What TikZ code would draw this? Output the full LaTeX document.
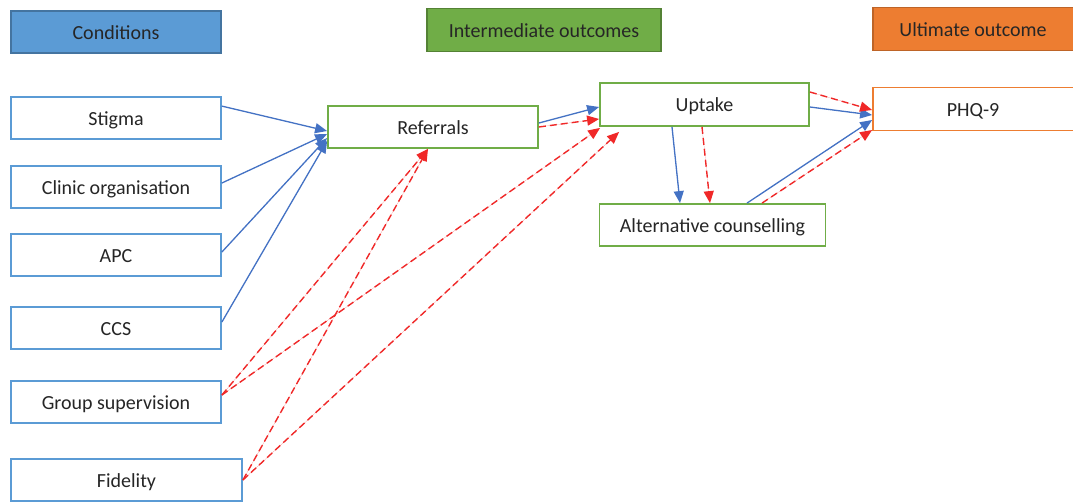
\documentclass[tikz,border=0pt]{standalone}
\usepackage{fontspec}
\setmainfont{Carlito}
\usetikzlibrary{arrows.meta}
\definecolor{cblue}{HTML}{5B9BD5}
\definecolor{cgreen}{HTML}{70AD47}
\definecolor{corange}{HTML}{ED7D31}
\definecolor{lblue}{HTML}{4472C4}
\definecolor{lred}{HTML}{F02828}
\tikzset{
  box/.style={draw,line width=1.8pt,fill=white,minimum height=42pt,inner sep=0pt,
    text height=15pt,text depth=1pt,font=\fontsize{20}{24}\selectfont,text=black!85},
  condbox/.style={box,draw=cblue,minimum width=210pt},
  midbox/.style={box,draw=cgreen},
  endbox/.style={box,draw=corange},
  head/.style={box,line width=1.5pt},
  tip/.style={-{Triangle[length=12pt,width=10pt]}},
  blueline/.style={tip,draw=lblue,fill=lblue,line width=1.3pt},
  redline/.style={tip,draw=lred,fill=lred,line width=1.4pt,dash pattern=on 7pt off 4pt}
}
\begin{document}
\begin{tikzpicture}[x=1pt,y=-1pt]
  \clip (0,0) rectangle (1073,501);
  \fill[white] (0,0) rectangle (1073,501);
  % headings
  \node[head,fill=cblue,draw=cblue!75!black,minimum width=210pt] (cond) at (116,32) {Conditions};
  \node[head,fill=cgreen,draw=cgreen!75!black,minimum width=234pt,minimum height=43pt] (mid) at (544,30) {Intermediate outcomes};
  \node[head,fill=corange,draw=corange!80!black,minimum width=204pt,minimum height=43pt] (ult) at (975,29) {\hspace*{-4pt}Ultimate outcome};
  % conditions
  \node[condbox] (stigma) at (116,118) {Stigma};
  \node[condbox] (clinic) at (116,187) {Clinic organisation};
  \node[condbox] (apc) at (116,255) {APC};
  \node[condbox] (ccs) at (116,328) {CCS};
  \node[condbox] (group) at (116,402) {Group supervision};
  \node[condbox,minimum width=231pt] (fidelity) at (126.5,480) {Fidelity};
  % outcomes
  \node[midbox,minimum width=210pt] (referrals) at (433,127) {Referrals};
  \node[midbox,minimum width=209pt,minimum height=43pt] (uptake) at (704.5,104.5) {Uptake};
  \node[midbox,minimum width=226pt] (alt) at (712.5,225) {Alternative counselling};
  \node[endbox,minimum width=204pt,minimum height=43pt] (phq) at (975,109) {\hspace*{-4pt}PHQ-9};
  % blue links
  \draw[blueline] ([yshift=-10pt]stigma.north east) -- ([yshift=-4pt]referrals.west);
  \draw[blueline] ([yshift=4pt]clinic.east) -- ([yshift=-7pt]referrals.west);
  \draw[blueline] ([yshift=3pt]apc.east) -- ([yshift=-11pt]referrals.west);
  \draw[blueline] ([yshift=6pt]ccs.east) -- ([yshift=-14pt]referrals.west);
  \draw[blueline] ([yshift=4pt]referrals.east) -- ([yshift=-2.5pt]uptake.west);
  \draw[blueline] ([xshift=-32.5pt]uptake.south) -- ([xshift=-32.5pt]alt.north);
  \draw[blueline] ([yshift=-2.5pt]uptake.east) -- ([yshift=-6pt]phq.west);
  \draw[blueline] ([xshift=34.5pt]alt.north) -- ([yshift=-11pt]phq.west);
  % red links
  \draw[redline] (referrals.east) -- ([yshift=-14.5pt]uptake.west);
  \draw[redline] ([yshift=7pt]group.east) -- ([xshift=-5pt]referrals.south);
  \draw[redline] ([yshift=7pt]group.east) -- ([xshift=1pt,yshift=-1pt]uptake.south west);
  \draw[redline] (fidelity.east) -- ([xshift=-5pt]referrals.south);
  \draw[redline] (fidelity.east) -- ([xshift=20pt,yshift=-5pt]uptake.south west);
  \draw[redline] ([xshift=-2.5pt]uptake.south) -- ([xshift=-2.5pt]alt.north);
  \draw[redline] ([yshift=12.5pt]uptake.east) -- ([yshift=-1pt]phq.west);
  \draw[redline] ([xshift=49.5pt]alt.north) -- ([yshift=-21pt]phq.west);
\end{tikzpicture}
\end{document}
